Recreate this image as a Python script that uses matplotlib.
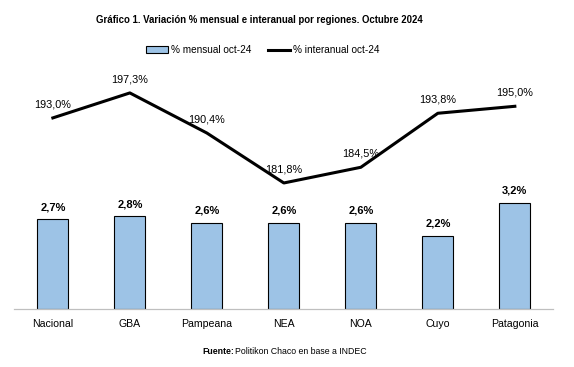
import matplotlib
matplotlib.use("Agg")
import matplotlib.pyplot as plt
from matplotlib.patches import Patch
from matplotlib.lines import Line2D

regiones = ["Nacional", "GBA", "Pampeana", "NEA", "NOA", "Cuyo", "Patagonia"]
mensual = [2.7, 2.8, 2.6, 2.6, 2.6, 2.2, 3.2]
interanual = [193.0, 197.3, 190.4, 181.8, 184.5, 193.8, 195.0]

plt.rcParams["font.family"] = ["Liberation Sans Narrow", "Liberation Sans", "DejaVu Sans"]

fig = plt.figure(figsize=(5.74, 3.67), dpi=100)
ax = fig.add_axes([0.025, 0.158, 0.939, 0.679])
ax2 = ax.twinx()

x = range(len(regiones))
ax.bar(x, mensual, width=0.4, color="#9DC3E6", edgecolor="black", linewidth=0.8, zorder=2)
for i, v in zip(x, mensual):
    ax.annotate(("%.1f%%" % v).replace(".", ","), (i, v), xytext=(0, 5),
                textcoords="offset points", ha="center", va="bottom",
                fontsize=8, fontweight="bold")

ax2.plot(list(x), interanual, color="black", linewidth=2.2, zorder=3)
for i, v in zip(x, interanual):
    ax2.annotate(("%.1f%%" % v).replace(".", ","), (i, v), xytext=(0, 6),
                 textcoords="offset points", ha="center", va="bottom",
                 fontsize=7.8)

ax.set_xlim(-0.5, len(regiones) - 0.5)
ax.set_ylim(0, 7.5)
ax2.set_ylim(160.1, 203)
ax.set_xticks(list(x))
ax.set_xticklabels(regiones, fontsize=7.6)
ax.tick_params(axis="x", length=0, pad=7)
ax.set_yticks([])
ax2.set_yticks([])
for a in (ax, ax2):
    for s in ["top", "right", "left"]:
        a.spines[s].set_visible(False)
    a.spines["bottom"].set_color("#BFBFBF")

fig.text(0.452, 0.945, "Gráfico 1. Variación % mensual e interanual por regiones. Octubre 2024",
         ha="center", va="center", fontsize=6.9, fontweight="bold")

handles = [Patch(facecolor="#9DC3E6", edgecolor="black", linewidth=0.8),
           Line2D([0], [0], color="black", linewidth=2.2)]
fig.legend(handles, ["% mensual oct-24", "% interanual oct-24"], loc="center",
           bbox_to_anchor=(0.458, 0.863), ncol=2, frameon=False, fontsize=7.2,
           handlelength=2.2, handletextpad=0.3, columnspacing=1.6)

fig.text(0.352, 0.041, "Fuente:", ha="left", va="center", fontsize=6.3, fontweight="bold")
fig.text(0.409, 0.041, "Politikon Chaco en base a INDEC", ha="left", va="center", fontsize=6.3)

fig.savefig("out.png", dpi=100)
